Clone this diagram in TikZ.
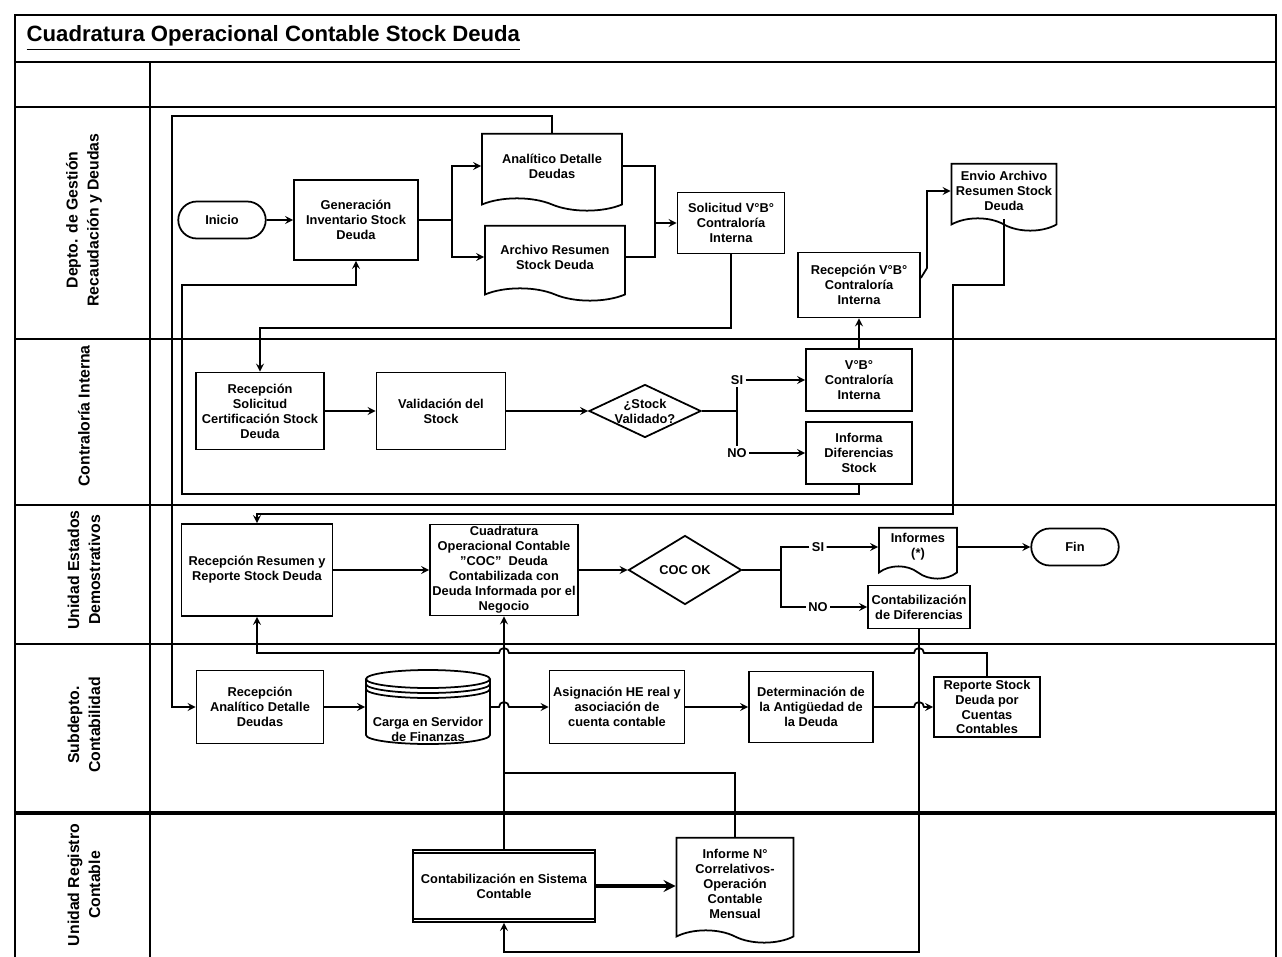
\documentclass[tikz,border=0pt]{standalone}
\usepackage{fontspec}
\setmainfont{Liberation Sans}
\usepackage{tikz}
\usetikzlibrary{shapes.geometric,shapes.symbols,shapes.misc,calc}
\tikzset{proc/.style={draw,align=center,inner sep=1pt,font=\bfseries\fontsize{7.3}{8.5}\selectfont}}
\tikzset{docu/.style={proc,tape,tape bend top=none,tape bend bottom=out and in,tape bend height=7pt}}
\tikzset{term/.style={proc,rounded rectangle,minimum width=1.82cm,minimum height=0.74cm}}
\tikzset{decis/.style={proc,diamond,inner sep=0pt}}
\tikzset{yesno/.style={align=center,inner sep=1pt,font=\bfseries\fontsize{7.3}{8.5}\selectfont}}
\tikzset{swim/.style={rotate=90,align=center,font=\bfseries\fontsize{9}{12}\selectfont}}

\begin{document}
\begin{tikzpicture}[x=0.02cm,y=-0.02cm,line width=1pt]
	\useasboundingbox (0,0) rectangle (1282,957);
	\draw (15,957) -- (15,15) -- (1276,15) -- (1276,957);
	\draw (15,62) -- (1276,62);
	\draw (15,107) -- (1276,107);
	\draw (15,339) -- (1276,339);
	\draw (15,505) -- (1276,505);
	\draw (15,644) -- (1276,644);
	\draw[line width=1.8pt] (15,813) -- (1276,813);
	\draw (150,62) -- (150,957);
	\node[anchor=west,font=\bfseries\fontsize{12.6}{14}\selectfont] (titulo) at (20,38) {\underline{Cuadratura Operacional Contable Stock Deuda}};
	\node[swim] (lane1) at (84,220) {Depto. de Gestión\\Recaudación y Deudas};
	\node[swim] (lane2) at (84,416) {Contraloría Interna};
	\node[swim] (lane3) at (84,570) {Unidad Estados\\Demostrativos};
	\node[swim] (lane4) at (84,725) {Subdepto.\\Contabilidad};
	\node[swim] (lane5) at (84,885) {Unidad Registro\\Contable};
	% Depto. de Gestion
	\node[term] (ini) at (222,220) {Inicio};
	\node[proc,minimum width=2.48cm,minimum height=1.6cm] (gen) at (356,220) {Generación\\Inventario Stock\\Deuda};
	\node[docu,minimum width=2.8cm,minimum height=1.54cm] (ana) at (552,166) {Analítico Detalle\\Deudas};
	\node[docu,minimum width=2.8cm,minimum height=1.5cm] (arch) at (555,257) {Archivo Resumen\\Stock Deuda};
	\node[proc,minimum width=2.14cm,minimum height=1.22cm] (sol) at (731,223) {Solicitud V°B°\\Contraloría\\Interna};
	\node[proc,minimum width=2.44cm,minimum height=1.3cm] (recvb) at (859,285) {Recepción V°B°\\Contraloría\\Interna};
	\node[docu,minimum width=2.1cm,minimum height=1.34cm] (envio) at (1004,191) {Envio Archivo\\Resumen Stock\\Deuda};
	% Contraloria Interna
	\node[proc,minimum width=2.56cm,minimum height=1.54cm] (recsol) at (260,411) {Recepción\\Solicitud\\Certificación Stock\\Deuda};
	\node[proc,minimum width=2.58cm,minimum height=1.54cm] (valid) at (441,411) {Validación del\\Stock};
	\node[decis,minimum width=2.24cm,minimum height=1.06cm] (stk) at (645,411) {};
	\node[yesno] (stktxt) at (stk) {¿Stock\\Validado?};
	\node[proc,minimum width=2.12cm,minimum height=1.24cm] (vb) at (859,380) {V°B°\\Contraloría\\Interna};
	\node[proc,minimum width=2.12cm,minimum height=1.24cm] (infdif) at (859,453) {Informa\\Diferencias\\Stock};
	\node[yesno] (si1) at (737,380) {SI};
	\node[yesno] (no1) at (737,453) {NO};
	% Unidad Estados Demostrativos
	\node[proc,minimum width=3.02cm,minimum height=1.84cm] (recres) at (257,570) {Recepción Resumen y\\Reporte Stock Deuda};
	\node[proc,inner sep=0pt,minimum width=2.96cm,minimum height=1.82cm] (cuad) at (504,570) {Cuadratura\\Operacional Contable\\"COC"\ \ Deuda\\Contabilizada con\\Deuda Informada por el\\Negocio};
	\node[decis,minimum width=2.26cm,minimum height=1.38cm] (coc) at (685,570) {COC OK};
	\node[docu,minimum width=1.56cm,minimum height=1.02cm] (infs) at (918,547) {Informes\\(*)};
	\node[term] (fin) at (1075,547) {Fin};
	\node[proc,minimum width=2.04cm,minimum height=0.86cm] (condif) at (919,607) {Contabilización\\de Diferencias};
	\node[yesno] (si2) at (818,547) {SI};
	\node[yesno] (no2) at (818,607) {NO};
	% Subdepto. Contabilidad
	\node[proc,minimum width=2.54cm,minimum height=1.46cm] (recana) at (260,707) {Recepción\\Analítico Detalle\\Deudas};
	\node[proc,draw=none,minimum width=2.48cm,minimum height=1.5cm] (carga) at (428,707) {};
	\node[yesno] (cargatxt) at (428,729) {Carga en Servidor\\de Finanzas};
	\draw ($(carga)+(-62,-28)$) -- ($(carga)+(-62,28)$) arc[start angle=180,end angle=360,x radius=1.24cm,y radius=0.18cm] -- ($(carga)+(62,-28)$);
	\draw ($(carga)+(0,-28)$) ellipse[x radius=1.24cm,y radius=0.18cm];
	\draw ($(carga)+(-62,-23)$) arc[start angle=180,end angle=360,x radius=1.24cm,y radius=0.18cm];
	\draw ($(carga)+(-62,-18)$) arc[start angle=180,end angle=360,x radius=1.24cm,y radius=0.18cm];
	\node[proc,minimum width=2.7cm,minimum height=1.46cm] (asig) at (617,707) {Asignación HE real y\\asociación de\\cuenta contable};
	\node[proc,minimum width=2.48cm,minimum height=1.42cm] (det) at (811,707) {Determinación de\\la Antigüedad de\\la Deuda};
	\node[proc,minimum width=2.12cm,minimum height=1.2cm] (reporte) at (987,707) {Reporte Stock\\Deuda por\\Cuentas\\Contables};
	% Unidad Registro Contable
	\node[proc,minimum width=3.64cm,minimum height=1.44cm] (contsis) at (504,886) {Contabilización en Sistema\\Contable};
	\draw ([yshift=-2pt]contsis.north west) -- ([yshift=-2pt]contsis.north east);
	\draw ([yshift=2pt]contsis.south west) -- ([yshift=2pt]contsis.south east);
	\node[docu,minimum width=2.34cm,minimum height=2.1cm] (infn) at (735,884) {Informe N°\\Correlativos-\\Operación\\Contable\\Mensual};
	% conectores
	\draw[-stealth] (ini) -- (gen);
	\coordinate (g1) at (452,220);
	\draw[-stealth] (gen.east) -- (g1) |- (ana.west);
	\draw[-stealth] (g1) |- (arch.west);
	\coordinate (g2) at (655,223);
	\draw (ana.east) -| (g2);
	\draw (arch.east) -| (g2);
	\draw[-stealth] (g2) -- (sol.west);
	\coordinate (s1) at (260,328);
	\draw[-stealth] (sol.south) |- (s1) -- (recsol.north);
	\draw[-stealth] (vb) -- (recvb);
	\coordinate (r1) at (927,268);
	\draw[-stealth] ([yshift=4pt]recvb.east) -- (r1) |- (envio.west);
	\coordinate (e1) at (953,285);
	\coordinate (e2) at (953,514);
	\draw[-stealth] (envio.south) |- (e1) -- (e2) -| (recres.north);
	\draw[-stealth] (recsol) -- (valid);
	\draw[-stealth] (valid) -- (stk);
	\draw (stk.east) -- (stk.east -| si1);
	\draw (si1) -- (no1);
	\draw[-stealth] (si1) -- (vb);
	\draw[-stealth] (no1) -- (infdif);
	\coordinate (l1) at (182,494);
	\coordinate (l2) at (182,285);
	\draw[-stealth] (infdif.south) |- (l1) -- (l2) -| (gen.south);
	\coordinate (o1) at (172,116);
	\draw[-stealth] (ana.north) |- (o1) |- (recana.west);
	\draw[-stealth] (recres) -- (cuad);
	\draw[-stealth] (cuad) -- (coc);
	\coordinate (k1) at (781,570);
	\draw (coc.east) -- (k1);
	\draw (si2.west) -| (k1) |- (no2.west);
	\draw[-stealth] (si2) -- (infs);
	\draw[-stealth] (no2) -- (condif);
	\draw[-stealth] (infs) -- (fin);
	\coordinate (h1) at (0,653);
	\draw[-stealth] (reporte.north) |- ($(condif.south |- h1)+(5,0)$) arc[start angle=0,end angle=180,radius=0.1cm] -- ($(cuad.south |- h1)+(5,0)$) arc[start angle=0,end angle=180,radius=0.1cm] -| (recres.south);
	\coordinate (d1) at (504,952);
	\draw[-stealth] (condif.south) |- (d1) -- (contsis.south);
	\draw[-stealth] (recana) -- (carga);
	\draw[-stealth] (carga) -- ($(cuad.south |- carga)+(-5,0)$) arc[start angle=180,end angle=0,radius=0.1cm] -- (asig);
	\draw[-stealth] (asig) -- (det);
	\draw[-stealth] (det) -- ($(condif.south |- det)+(-5,0)$) arc[start angle=180,end angle=0,radius=0.1cm] -- (reporte);
	\draw[-stealth] (contsis) -- (cuad);
	\coordinate (n1) at (504,773);
	\draw (infn.north) |- (n1);
	\draw[-stealth,line width=2pt] (contsis.east) -- (contsis.east -| infn.west);
\end{tikzpicture}
\end{document}
